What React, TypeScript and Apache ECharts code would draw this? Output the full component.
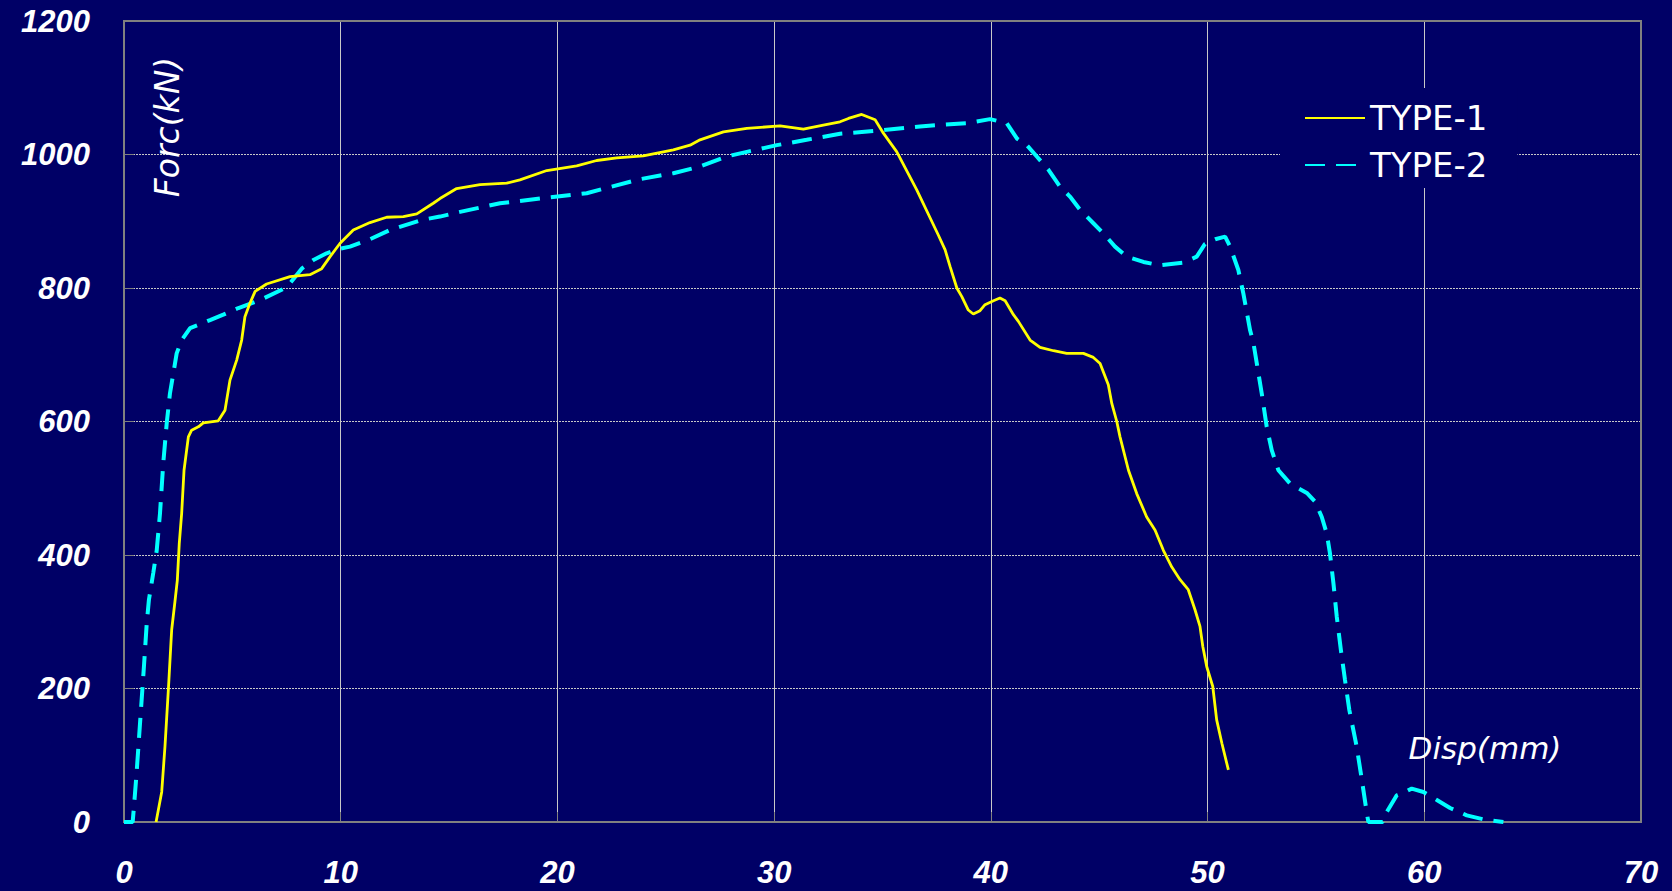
import React, { useEffect, useRef } from "react";
import * as echarts from "echarts";

// Load–displacement records of two specimen types
const type1Disp = [
  1.48, 1.74, 1.89, 2.05, 2.2, 2.35, 2.46, 2.55, 2.66, 2.77, 2.97, 3.12, 3.43, 3.66, 4.35, 4.66, 4.89, 5.2, 5.43, 5.58,
  5.81, 6.05, 6.58, 7.66, 8.58, 9.12, 9.51, 9.97, 10.58, 11.35, 12.12, 12.89, 13.51, 14.27, 14.58, 15.35, 16.43, 17.66,
  18.27, 19.51, 20.89, 21.81, 22.74, 23.96, 25.35, 26.12, 26.58, 27.66, 28.74, 30.27, 31.35, 32.27, 33.04, 33.43, 34.04,
  34.66, 35.04, 35.66, 36.58, 37.58, 37.89, 38.12, 38.43, 38.66, 38.96, 39.19, 39.5, 39.73, 40.12, 40.42, 40.66, 41.04,
  41.27, 41.81, 42.27, 42.89, 43.5, 44.27, 44.73, 45.04, 45.42, 45.58, 45.81, 45.96, 46.35, 46.73, 47.19, 47.58, 47.96,
  48.35, 48.73, 49.11, 49.42, 49.65, 49.78, 49.96, 50.24, 50.42, 50.66, 50.96,
];
const type1Force = [
  0, 45, 113, 200, 288, 330, 362, 417, 462, 527, 577, 587, 592, 598, 601, 617, 662, 692, 722, 757,
  777, 795, 806, 817, 820, 829, 847, 867, 887, 898, 906, 907, 911, 927, 934, 949, 955, 957,
  962, 976, 983, 991, 995, 998, 1007, 1014, 1022, 1034, 1039, 1043, 1038, 1044, 1049, 1054, 1060,
  1052, 1032, 1004, 947, 879, 857, 832, 800, 787, 767, 761, 766, 775, 781, 785, 781, 760,
  750, 722, 711, 706, 702, 702, 696, 687, 655, 627, 600, 577, 527, 492, 457, 437, 407,
  382, 363, 348, 318, 293, 263, 233, 203, 153, 118, 78,
];

const type2Disp = [
  0, 0.4, 0.46, 0.58, 0.74, 0.92, 1.05, 1.15, 1.35, 1.51, 1.66, 1.81, 1.97, 2.12, 2.25, 2.43, 2.66, 3.05, 3.97, 4.58,
  5.28, 6.28, 7.51, 8.2, 8.74, 9.35, 9.97, 10.43, 11.35, 12.28, 13.74, 14.58, 15.51, 17.35, 19.2, 21.35, 23.81, 25.35,
  26.58, 27.81, 28.74, 30.12, 31.5, 33.04, 34.89, 36.73, 37.5, 38.89, 39.96, 40.73, 41.2, 41.66, 42.12, 42.66, 43.19,
  43.65, 44.12, 44.73, 45.27, 45.73, 46.27, 47.04, 47.81, 48.88, 49.5, 49.88, 50.35, 50.81, 51.04, 51.42, 51.65, 51.96,
  52.12, 52.5, 52.73, 52.96, 53.27, 53.81, 54.58, 54.96, 55.27, 55.5, 55.65, 55.81, 55.96, 56.15, 56.34, 56.54, 56.88,
  57.12, 57.35, 57.42, 58.08, 58.27, 58.73, 59.12, 59.42, 59.96, 60.58, 61.19, 61.96, 62.73, 63.65,
];
const type2Force = [
  0, 0, 23, 73, 148, 233, 298, 333, 373, 407, 462, 537, 597, 642, 667, 702, 722, 740, 752, 760,
  770, 782, 801, 829, 842, 852, 859, 862, 873, 887, 902, 907, 914, 927, 934, 942, 963, 972,
  982, 997, 1004, 1014, 1022, 1031, 1036, 1042, 1044, 1047, 1053, 1047, 1024, 1014, 997, 977, 952,
  937, 917, 897, 879, 862, 847, 839, 834, 838, 847, 866, 873, 877, 862, 827, 792, 737,
  717, 642, 592, 557, 527, 507, 493, 480, 457, 432, 402, 357, 308, 258, 213, 168, 113,
  63, 13, 0, 0, 15, 40, 45, 50, 45, 33, 21, 10, 4, 0,
];

const seriesNames = ["TYPE-1", "TYPE-2"];
const xTicks = { min: 0, max: 70, interval: 10 };
const yTicks = { min: 0, max: 1200, interval: 200 };
const xAxisTitle = "Disp(mm)";
const yAxisTitle = "Forc(kN)";

const zip = (xs: number[], ys: number[]) => xs.map((x, i) => [x, ys[i]]);

const BG = "#000066";
const FONT = "'DejaVu Sans', sans-serif";
const TICK_FONT = "'Liberation Sans', Arial, sans-serif";

export default function App() {
  const ref = useRef<HTMLDivElement>(null);

  useEffect(() => {
    document.body.style.margin = "0";
    const chart = echarts.init(ref.current!, null, { renderer: "svg" });
    const tickLabel = {
      color: "#ffffff",
      fontFamily: TICK_FONT,
      fontStyle: "italic" as const,
      fontWeight: "bold" as const,
      fontSize: 31,
      formatter: (v: number) => String(v),
    };
    chart.setOption({
      animation: false,
      backgroundColor: BG,
      grid: { left: 124, top: 21, right: 31, bottom: 69, containLabel: false },
      legend: {
        left: 1280,
        top: 88,
        orient: "vertical",
        backgroundColor: BG,
        padding: [10, 30, 3, 24],
        itemWidth: 60,
        itemHeight: 14,
        itemGap: 7,
        itemStyle: { opacity: 0, borderWidth: 0 },
        textStyle: { color: "#ffffff", fontFamily: FONT, fontSize: 34, lineHeight: 40 },
        data: seriesNames,
      },
      xAxis: {
        type: "value",
        ...xTicks,
        axisLine: { show: true, lineStyle: { color: "#808080", width: 2 } },
        axisTick: { show: true, inside: true, length: 10, lineStyle: { color: "#808080", width: 1 } },
        axisLabel: { ...tickLabel, margin: 35 },
        splitLine: { show: true, lineStyle: { color: "#c8c8c8", width: 1, type: "solid" } },
      },
      yAxis: {
        type: "value",
        ...yTicks,
        axisLine: { show: true, lineStyle: { color: "#808080", width: 2 } },
        axisTick: { show: true, inside: true, length: 10, lineStyle: { color: "#808080", width: 1 } },
        axisLabel: { ...tickLabel, margin: 34 },
        splitLine: { show: true, lineStyle: { color: "#c8c8c8", width: 1, type: [2, 1] } },
      },
      graphic: [
        {
          type: "rect",
          z: 1,
          silent: true,
          shape: { x: 124, y: 21, width: 1517, height: 801 },
          style: { fill: "none", stroke: "#808080", lineWidth: 2 },
        },
        {
          type: "text",
          z: 5,
          x: 167,
          y: 127,
          rotation: Math.PI / 2,
          style: {
            text: yAxisTitle,
            fill: "#ffffff",
            font: `italic 33px ${FONT}`,
            align: "center",
            verticalAlign: "middle",
          },
        },
        {
          type: "text",
          z: 5,
          x: 1485,
          y: 748,
          style: {
            text: xAxisTitle,
            fill: "#ffffff",
            font: `italic 31px ${FONT}`,
            align: "center",
            verticalAlign: "middle",
          },
        },
      ],
      series: [
        {
          name: seriesNames[0],
          type: "line",
          data: zip(type1Disp, type1Force),
          showSymbol: false,
          symbol: "none",
          z: 3,
          lineStyle: { color: "#ffff00", width: 2.8 },
          itemStyle: { color: "#ffff00" },
        },
        {
          name: seriesNames[1],
          type: "line",
          data: zip(type2Disp, type2Force),
          showSymbol: false,
          symbol: "none",
          z: 2,
          lineStyle: { color: "#00ffff", width: 4, type: [20, 11] },
          itemStyle: { color: "#00ffff" },
        },
      ],
    });
    return () => chart.dispose();
  }, []);

  return <div ref={ref} style={{ width: 1672, height: 891 }} />;
}
